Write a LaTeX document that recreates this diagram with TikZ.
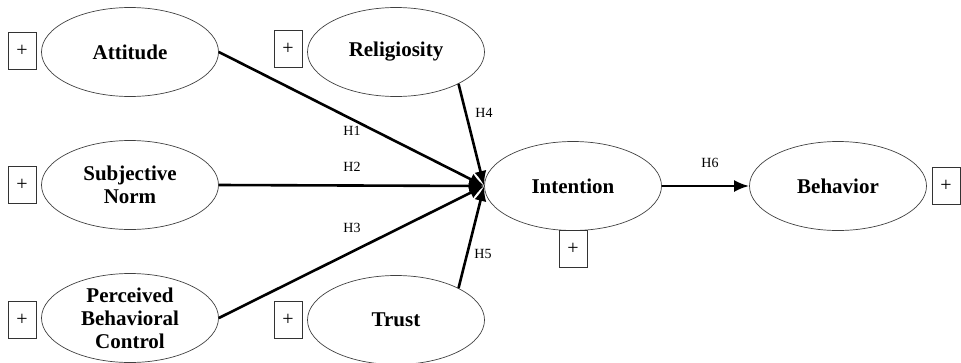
\documentclass[tikz,border=0pt]{standalone}
\usepackage{fontspec}
\setmainfont{Liberation Serif}
\usetikzlibrary{shapes.geometric,arrows.meta}
\begin{document}
\begin{tikzpicture}[x=1pt,y=-1pt,
  construct/.style={ellipse,draw=black!75,line width=0.7pt,minimum width=177pt,minimum height=89pt,inner sep=0pt,align=center,font=\fontsize{21}{23}\selectfont\bfseries},
  plusbox/.style={rectangle,draw=black!80,line width=0.7pt,minimum width=28pt,minimum height=37pt,inner sep=0pt,font=\fontsize{20}{20}\selectfont},
  path/.style={line width=2.6pt,-{Latex[length=15pt,width=12pt]}},
  hlabel/.style={font=\fontsize{14}{14}\selectfont,inner sep=0pt}]
\useasboundingbox (0,0) rectangle (961,362);
\clip (0,0) rectangle (961,362);
\node[construct] (att) at (130,52) {Attitude};
\node[construct] (rel) at (396,52) {Religiosity};
\node[construct] (sn) at (130,185) {Subjective\\Norm};
\node[construct] (pbc) at (130,318) {Perceived\\Behavioral\\Control};
\node[construct] (tr) at (396,320) {Trust};
\node[construct] (int) at (573,186) {Intention};
\node[construct] (beh) at (838,186) {Behavior};
\node[plusbox] (attb) at (22,51) {+};
\node[plusbox] (relb) at (288,49) {+};
\node[plusbox] (snb) at (22,185) {+};
\node[plusbox] (pbcb) at (22,320) {+};
\node[plusbox] (trb) at (288,320) {+};
\node[plusbox] (intb) at (573,249) {+};
\node[plusbox] (behb) at (946,186) {+};
\draw[path] (att.east) -- (int.west);
\draw[path] (sn.east) -- (int.west);
\draw[path] (pbc.east) -- (int.west);
\draw[path] (rel.-27.6) -- (int.west);
\draw[path] (tr.27.6) -- (int.west);
\draw[path] (int.east) -- (beh.west);
\node[hlabel] (h1) at (352,131) {H1};
\node[hlabel] (h2) at (352,167) {H2};
\node[hlabel] (h3) at (352,228) {H3};
\node[hlabel] (h4) at (484,113) {H4};
\node[hlabel] (h5) at (483,254) {H5};
\node[hlabel] (h6) at (710,163) {H6};
\end{tikzpicture}
\end{document}
